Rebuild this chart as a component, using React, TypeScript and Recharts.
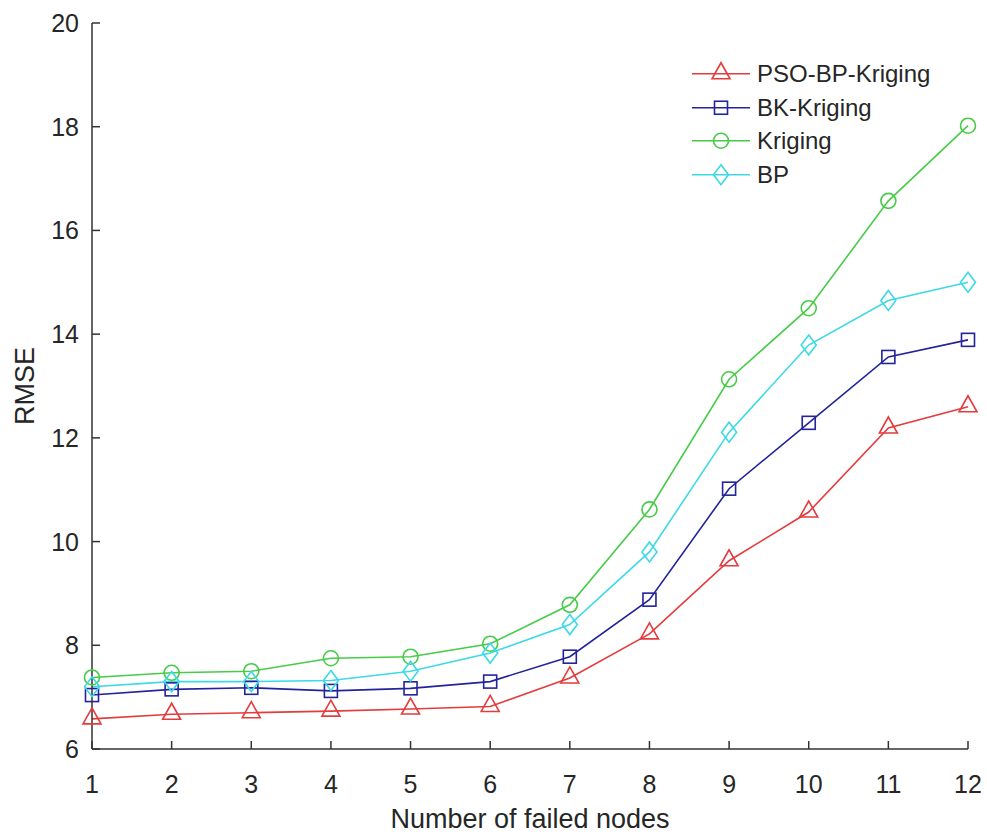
import React from 'react';
import { LineChart, Line, XAxis, YAxis, Legend, Label } from 'recharts';

const nodes = [1, 2, 3, 4, 5, 6, 7, 8, 9, 10, 11, 12];
const psoBpKriging = [6.58, 6.67, 6.7, 6.73, 6.77, 6.82, 7.37, 8.22, 9.63, 10.57, 12.19, 12.6];
const bkKriging = [7.04, 7.15, 7.18, 7.12, 7.17, 7.3, 7.78, 8.88, 11.02, 12.29, 13.56, 13.89];
const kriging = [7.38, 7.47, 7.5, 7.75, 7.78, 8.03, 8.78, 10.62, 13.13, 14.5, 16.57, 18.02];
const bp = [7.2, 7.3, 7.3, 7.32, 7.5, 7.85, 8.4, 9.8, 12.11, 13.79, 14.65, 15.0];
const xTicks = [1, 2, 3, 4, 5, 6, 7, 8, 9, 10, 11, 12];
const yTicks = [6, 8, 10, 12, 14, 16, 18, 20];
const seriesNames = ['PSO-BP-Kriging', 'BK-Kriging', 'Kriging', 'BP'];

const data = nodes.map((n, i) => ({
  n,
  pso: psoBpKriging[i],
  bk: bkKriging[i],
  kr: kriging[i],
  bp: bp[i],
}));

const FONT = "'Liberation Sans', Arial, Helvetica, sans-serif";
const AXIS = '#333333';
const TEXT = '#262626';

type Shape = 'triangle' | 'square' | 'circle' | 'diamond';

const series: { key: string; name: string; color: string; shape: Shape }[] = [
  { key: 'pso', name: seriesNames[0], color: '#e43b3d', shape: 'triangle' },
  { key: 'bk', name: seriesNames[1], color: '#23239c', shape: 'square' },
  { key: 'kr', name: seriesNames[2], color: '#46cc46', shape: 'circle' },
  { key: 'bp', name: seriesNames[3], color: '#3cd9e6', shape: 'diamond' },
];

function Marker({ shape, cx, cy, color }: { shape: Shape; cx: number; cy: number; color: string }) {
  const common = { fill: 'none', stroke: color, strokeWidth: 1.6 };
  if (shape === 'triangle') {
    return <polygon points={`${cx},${cy - 11} ${cx - 9},${cy + 5} ${cx + 9},${cy + 5}`} {...common} />;
  }
  if (shape === 'square') {
    return <rect x={cx - 6.5} y={cy - 6.5} width={13} height={13} {...common} />;
  }
  if (shape === 'circle') {
    return <circle cx={cx} cy={cy} r={7.5} {...common} />;
  }
  return <polygon points={`${cx},${cy - 10} ${cx + 7.5},${cy} ${cx},${cy + 10} ${cx - 7.5},${cy}`} {...common} />;
}

function XTick(props: any) {
  const { x, y, payload } = props;
  return (
    <g>
      <line x1={x} y1={y} x2={x} y2={y - 8} stroke={AXIS} strokeWidth={1.5} />
      <text x={x} y={y + 44} textAnchor="middle" fontFamily={FONT} fontSize={25} fill={TEXT}>
        {payload.value}
      </text>
    </g>
  );
}

function YTick(props: any) {
  const { x, y, payload } = props;
  return (
    <g>
      <line x1={x} y1={y} x2={x + 8} y2={y} stroke={AXIS} strokeWidth={1.5} />
      <text x={x - 13} y={y + 9} textAnchor="end" fontFamily={FONT} fontSize={25} fill={TEXT}>
        {payload.value}
      </text>
    </g>
  );
}

function LegendBox() {
  return (
    <div style={{ fontFamily: FONT, fontSize: 24, color: TEXT }}>
      {series.map((s) => (
        <div key={s.key} style={{ display: 'flex', alignItems: 'center', height: 33.5 }}>
          <svg width={58} height={33.5} style={{ display: 'block' }}>
            <line x1={0} y1={16.75} x2={58} y2={16.75} stroke={s.color} strokeWidth={1.6} />
            <Marker shape={s.shape} cx={29} cy={16.75} color={s.color} />
          </svg>
          <span style={{ marginLeft: 7, lineHeight: '33.5px', whiteSpace: 'nowrap' }}>{s.name}</span>
        </div>
      ))}
    </div>
  );
}

export default function App() {
  return (
    <div style={{ position: 'absolute', left: 0, top: 0, width: 987, height: 836, background: '#fff' }}>
      <LineChart
        width={987}
        height={836}
        data={data}
        margin={{ top: 23, right: 19, bottom: 27, left: 0 }}
      >
        <XAxis
          dataKey="n"
          type="number"
          domain={[1, 12]}
          ticks={xTicks}
          interval={0}
          height={60}
          tickSize={0}
          tickMargin={0}
          tickLine={false}
          axisLine={{ stroke: AXIS, strokeWidth: 1.5 }}
          tick={<XTick />}
        >
          <Label
            content={(p: any) => {
              const vb = p.viewBox;
              return (
                <text
                  x={vb.x + vb.width / 2}
                  y={vb.y + 79}
                  textAnchor="middle"
                  fontFamily={FONT}
                  fontSize={27}
                  fill={TEXT}
                >
                  Number of failed nodes
                </text>
              );
            }}
          />
        </XAxis>
        <YAxis
          type="number"
          domain={[6, 20]}
          ticks={yTicks}
          interval={0}
          width={92}
          tickSize={0}
          tickMargin={0}
          tickLine={false}
          axisLine={{ stroke: AXIS, strokeWidth: 1.5 }}
          tick={<YTick />}
        >
          <Label
            content={(p: any) => {
              const vb = p.viewBox;
              const cx = vb.x + 34;
              const cy = vb.y + vb.height / 2;
              return (
                <text
                  x={cx}
                  y={cy}
                  textAnchor="middle"
                  transform={`rotate(-90, ${cx}, ${cy})`}
                  fontFamily={FONT}
                  fontSize={27}
                  fill={TEXT}
                >
                  RMSE
                </text>
              );
            }}
          />
        </YAxis>
        <Legend
          layout="vertical"
          align="center"
          verticalAlign="middle"
          content={() => <LegendBox />}
          wrapperStyle={{ left: 692, top: 57, width: 260, height: 140 }}
        />
        {series.map((s) => (
          <Line
            key={s.key}
            type="linear"
            dataKey={s.key}
            name={s.name}
            stroke={s.color}
            strokeWidth={1.6}
            isAnimationActive={false}
            dot={(p: any) => (
              <Marker key={`${s.key}-${p.index}`} shape={s.shape} cx={p.cx} cy={p.cy} color={s.color} />
            )}
            activeDot={false}
          />
        ))}
      </LineChart>
    </div>
  );
}
